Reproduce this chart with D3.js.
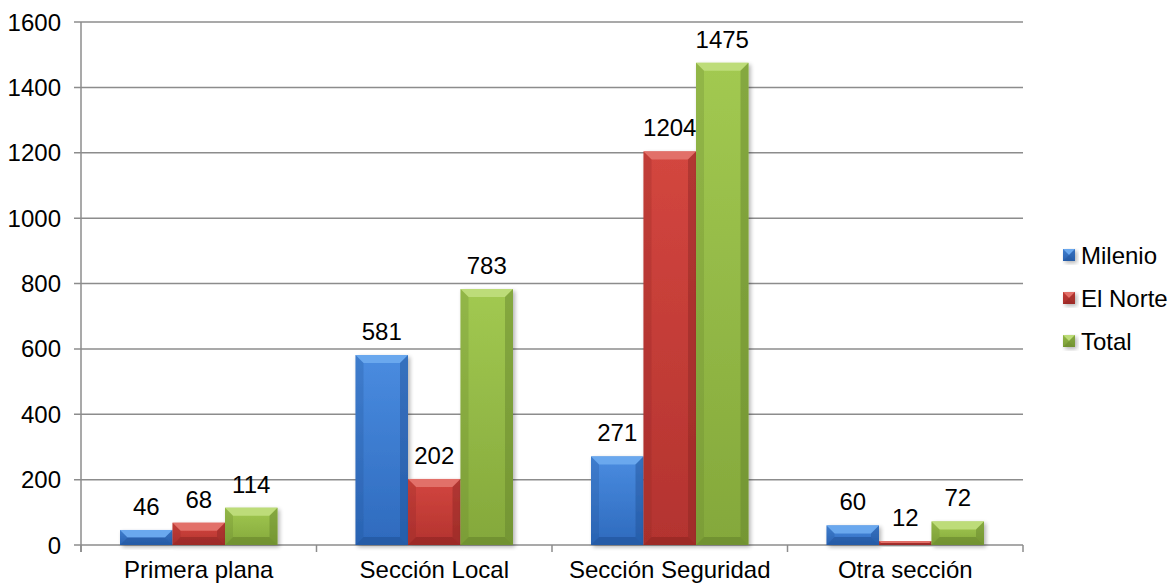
<!DOCTYPE html>
<html lang="es">
<head>
<meta charset="UTF-8">
<title>Notas por sección</title>
<script src="https://d3js.org/d3.v7.min.js"></script>
<style>
  html, body { margin: 0; padding: 0; background: #fff; }
  svg text { font-family: "Liberation Sans", Arial, sans-serif; fill: #000; }
</style>
</head>
<body>
<svg id="chart" width="1170" height="585"></svg>
<script>
// datos
const categories = ["Primera plana", "Sección Local", "Sección Seguridad", "Otra sección"];
const seriesNames = ["Milenio", "El Norte", "Total"];
const milenio = [46, 581, 271, 60];
const elNorte = [68, 202, 1204, 12];
const total = [114, 783, 1475, 72];
const yTicks = [0, 200, 400, 600, 800, 1000, 1200, 1400, 1600];

const seriesValues = [milenio, elNorte, total];
const palette = [
  { top: "#4a8ce0", bottom: "#2e6abd", light: "#6aa8ee", dark: "#1f4f94" },
  { top: "#d3463f", bottom: "#b3332f", light: "#e26f69", dark: "#8a2523" },
  { top: "#a2c951", bottom: "#84a83b", light: "#bddc79", dark: "#62802a" }
];

const svg = d3.select("#chart");
const plot = { left: 81, right: 1023, top: 22, bottom: 545 };

const x0 = d3.scaleBand().domain(categories).range([plot.left, plot.right]).paddingInner(0).paddingOuter(0);
const x1 = d3.scaleBand().domain(seriesNames).range([39, x0.bandwidth() - 39]).padding(0);
const y = d3.scaleLinear().domain([0, 1600]).range([plot.bottom, plot.top]);

const defs = svg.append("defs");
palette.forEach((c, j) => {
  const g = defs.append("linearGradient").attr("id", "grad" + j)
    .attr("x1", 0).attr("y1", 0).attr("x2", 0).attr("y2", 1);
  g.append("stop").attr("offset", "0%").attr("stop-color", c.top);
  g.append("stop").attr("offset", "100%").attr("stop-color", c.bottom);
});
const f = defs.append("filter").attr("id", "shadow").attr("x", "-20%").attr("y", "-20%").attr("width", "150%").attr("height", "150%");
f.append("feGaussianBlur").attr("in", "SourceAlpha").attr("stdDeviation", 2);
f.append("feOffset").attr("dx", 2).attr("dy", 2).attr("result", "off");
f.append("feComponentTransfer").append("feFuncA").attr("type", "linear").attr("slope", 0.3);
const m = f.append("feMerge");
m.append("feMergeNode");
m.append("feMergeNode").attr("in", "SourceGraphic");

// rejilla
svg.append("g")
  .selectAll("line")
  .data(yTicks)
  .join("line")
  .attr("x1", plot.left - 7).attr("x2", plot.right)
  .attr("y1", d => y(d)).attr("y2", d => y(d))
  .attr("stroke", "#8c8c8c").attr("stroke-width", 1.5);

// eje Y
svg.append("line")
  .attr("x1", plot.left).attr("x2", plot.left)
  .attr("y1", plot.top).attr("y2", plot.bottom + 7)
  .attr("stroke", "#8c8c8c").attr("stroke-width", 1.5);

svg.append("g")
  .selectAll("text")
  .data(yTicks)
  .join("text")
  .attr("x", 61).attr("y", d => y(d) + 8.5)
  .attr("text-anchor", "end")
  .style("font-size", "24px")
  .text(d => d);

// eje X ticks
const xTickPos = categories.map(c => x0(c)).concat([plot.right]);
svg.append("g")
  .selectAll("line")
  .data(xTickPos)
  .join("line")
  .attr("x1", d => d).attr("x2", d => d)
  .attr("y1", plot.bottom).attr("y2", plot.bottom + 7)
  .attr("stroke", "#8c8c8c").attr("stroke-width", 1.5);

svg.append("g")
  .selectAll("text")
  .data(categories)
  .join("text")
  .attr("x", d => x0(d) + x0.bandwidth() / 2)
  .attr("y", 578)
  .attr("text-anchor", "middle")
  .style("font-size", "24px")
  .text(d => d);

function bevelBar(g, x, yTop, w, h, j, bev) {
  const col = palette[j];
  const b = Math.min(bev, h / 2, w / 2);
  const x2 = x + w, yb = yTop + h;
  const grp = g.append("g").attr("filter", "url(#shadow)");
  grp.append("rect").attr("x", x).attr("y", yTop).attr("width", w).attr("height", h).attr("fill", `url(#grad${j})`);
  // superior
  grp.append("polygon").attr("points", [[x, yTop], [x2, yTop], [x2 - b, yTop + b], [x + b, yTop + b]].join(" ")).attr("fill", col.light);
  // izquierda
  grp.append("polygon").attr("points", [[x, yTop], [x + b, yTop + b], [x + b, yb - b], [x, yb]].join(" ")).attr("fill", col.dark).attr("opacity", 0.25);
  // derecha
  grp.append("polygon").attr("points", [[x2, yTop], [x2 - b, yTop + b], [x2 - b, yb - b], [x2, yb]].join(" ")).attr("fill", col.dark).attr("opacity", 0.45);
  // inferior
  grp.append("polygon").attr("points", [[x, yb], [x + b, yb - b], [x2 - b, yb - b], [x2, yb]].join(" ")).attr("fill", col.dark).attr("opacity", 0.55);
}

const barsG = svg.append("g");
categories.forEach((cat, i) => {
  seriesNames.forEach((s, j) => {
    const v = seriesValues[j][i];
    const bx = x0(cat) + x1(s);
    const top = y(v);
    bevelBar(barsG, bx, top, x1.bandwidth(), y(0) - top, j, 8);
    svg.append("text")
      .attr("x", bx + x1.bandwidth() / 2)
      .attr("y", top - 15)
      .attr("text-anchor", "middle")
      .style("font-size", "24px")
      .text(v);
  });
});

// leyenda
const legend = svg.append("g");
seriesNames.forEach((s, j) => {
  const ly = 255 + j * 43;
  bevelBar(legend, 1063, ly - 6, 12, 12, j, 6);
  legend.append("text")
    .attr("x", 1081).attr("y", ly + 8.5)
    .style("font-size", "24px")
    .text(s);
});
</script>
</body>
</html>
